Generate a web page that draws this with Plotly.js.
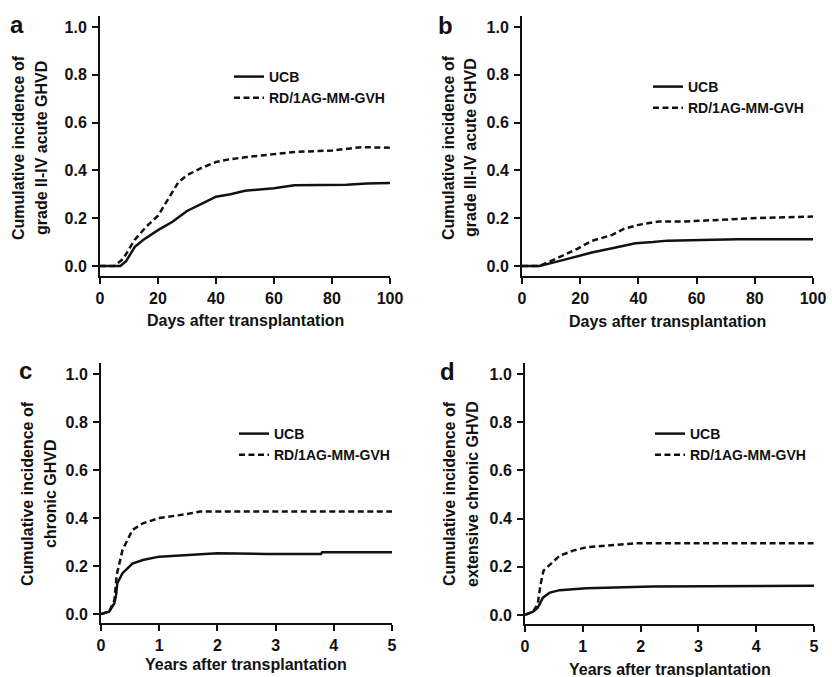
<!DOCTYPE html>
<html>
<head>
<meta charset="utf-8">
<script src="https://cdn.plot.ly/plotly-3.0.1.min.js"></script>
<style>html,body{margin:0;padding:0;background:#fff}#chart{width:832px;height:677px}</style>
</head>
<body>
<div id="chart"></div>
<script>
// Panel a: grade II-IV acute GVHD (days)
var aDaysUCB = [0, 7, 9, 12, 15, 20, 25, 30, 35, 40, 45, 50, 55, 60, 67, 75, 85, 92, 100];
var aUCB     = [0, 0, 0.02, 0.08, 0.11, 0.15, 0.185, 0.23, 0.26, 0.29, 0.30, 0.315, 0.32, 0.325, 0.338, 0.34, 0.34, 0.345, 0.347];
var aDaysRD  = [0, 5, 8, 12, 16, 20, 25, 27, 30, 35, 40, 44, 50, 55, 60, 67, 80, 90, 100];
var aRD      = [0, 0, 0.03, 0.11, 0.165, 0.21, 0.31, 0.35, 0.38, 0.41, 0.435, 0.445, 0.455, 0.46, 0.468, 0.477, 0.483, 0.497, 0.495];
// Panel b: grade III-IV acute GVHD (days)
var bDaysUCB = [0, 6, 12, 19, 24, 31, 39, 45, 50, 62, 74, 100];
var bUCB     = [0, 0, 0.018, 0.04, 0.056, 0.074, 0.095, 0.1, 0.106, 0.109, 0.112, 0.112];
var bDaysRD  = [0, 6, 12, 19, 24, 31, 35, 40, 47, 56, 68, 79, 100];
var bRD      = [0, 0, 0.032, 0.072, 0.105, 0.13, 0.155, 0.172, 0.186, 0.186, 0.193, 0.2, 0.207];
// Panel c: chronic GVHD (years)
var cYearsUCB = [0, 0.14, 0.23, 0.26, 0.28, 0.37, 0.54, 0.72, 1.0, 1.46, 2.0, 2.84, 3.78, 3.8, 5];
var cUCB      = [0, 0.01, 0.045, 0.08, 0.128, 0.17, 0.21, 0.225, 0.239, 0.246, 0.253, 0.25, 0.25, 0.257, 0.257];
var cYearsRD  = [0, 0.14, 0.23, 0.27, 0.37, 0.54, 0.72, 1.0, 1.46, 1.7, 5];
var cRD       = [0, 0.01, 0.058, 0.163, 0.267, 0.35, 0.378, 0.4, 0.416, 0.427, 0.427];
// Panel d: extensive chronic GVHD (years)
var dYearsUCB = [0, 0.14, 0.22, 0.31, 0.43, 0.6, 1.06, 1.64, 2.2, 5];
var dUCB      = [0, 0.014, 0.03, 0.072, 0.093, 0.103, 0.111, 0.114, 0.118, 0.121];
var dYearsRD  = [0, 0.14, 0.22, 0.27, 0.32, 0.48, 0.6, 0.83, 1.06, 1.4, 1.93, 5];
var dRD       = [0, 0.014, 0.045, 0.128, 0.184, 0.218, 0.246, 0.267, 0.281, 0.288, 0.298, 0.298];

var seriesNames = ["UCB", "RD/1AG-MM-GVH"];
var yTickVals = [0, 0.2, 0.4, 0.6, 0.8, 1.0];
var panelLetters = ["a", "b", "c", "d"];
var yTitleLine1 = ["Cumulative incidence of", "Cumulative incidence of",
                   "Cumulative incidence of", "Cumulative incidence of"];
var yTitleLine2 = ["grade II-IV acute GHVD", "grade III-IV acute GHVD",
                   "chronic GHVD", "extensive chronic GHVD"];
var xTitles = ["Days after transplantation", "Days after transplantation",
               "Years after transplantation", "Years after transplantation"];

var W = 832, H = 677;
var FONT = "Liberation Sans, Arial, sans-serif";
var INK = "#111";

function px(x){ return x / W; }
function py(y){ return 1 - y / H; }

var panels = [
  {xu: aDaysUCB, yu: aUCB, xr: aDaysRD, yr: aRD},
  {xu: bDaysUCB, yu: bUCB, xr: bDaysRD, yr: bRD},
  {xu: cYearsUCB, yu: cUCB, xr: cYearsRD, yr: cRD},
  {xu: dYearsUCB, yu: dUCB, xr: dYearsRD, yr: dRD}
];

// geometry (pixels)
var geo = [
  {x0: 100, x1: 390, yTop: 16,  yBot: 276, yr: [-0.042, 1.046], xr: [0, 100], dt: 20, t1: 19, t2: 42, ty: 148, xt: 320, lt: {x: 17, y: 24}, lg: {x: 229, y: 61}},
  {x0: 522, x1: 813, yTop: 16,  yBot: 276, yr: [-0.042, 1.046], xr: [0, 100], dt: 20, t1: 449, t2: 471, ty: 148, xt: 321, lt: {x: 445, y: 25}, lg: {x: 648, y: 71}},
  {x0: 101, x1: 392, yTop: 363, yBot: 623, yr: [-0.0375, 1.046], xr: [0, 5], dt: 1, t1: 27, t2: 50, ty: 494, xt: 664, lt: {x: 25, y: 370}, lg: {x: 234, y: 418}},
  {x0: 525, x1: 814, yTop: 363, yBot: 624, yr: [-0.0375, 1.046], xr: [0, 5], dt: 1, t1: 449, t2: 472, ty: 494, xt: 669, lt: {x: 447, y: 371}, lg: {x: 650, y: 418}}
];

var traces = [];
var layout = {
  width: W, height: H,
  margin: {l: 0, r: 0, t: 0, b: 0},
  paper_bgcolor: "#fff", plot_bgcolor: "rgba(0,0,0,0)",
  font: {family: FONT, color: INK},
  annotations: []
};

panels.forEach(function(p, i){
  var n = i + 1;
  var xa = "x" + (n === 1 ? "" : n), ya = "y" + (n === 1 ? "" : n);
  var lgName = "legend" + (n === 1 ? "" : n);
  traces.push({
    x: p.xu, y: p.yu, type: "scatter", mode: "lines", name: seriesNames[0],
    xaxis: xa, yaxis: ya, legend: lgName,
    line: {color: INK, width: 2.5, dash: "solid"}
  });
  traces.push({
    x: p.xr, y: p.yr, type: "scatter", mode: "lines", name: seriesNames[1],
    xaxis: xa, yaxis: ya, legend: lgName,
    line: {color: INK, width: 2.5, dash: "6px,3.5px"}
  });
  var g = geo[i];
  layout["xaxis" + (n === 1 ? "" : n)] = {
    domain: [px(g.x0), px(g.x1)], anchor: ya, range: g.xr,
    dtick: g.dt, tick0: 0, ticks: "outside", ticklen: 6, tickwidth: 2, tickcolor: INK,
    showline: true, linecolor: INK, linewidth: 2, showgrid: false, zeroline: false,
    tickfont: {family: FONT, size: 16, color: INK, weight: "bold"},
    ticklabelstandoff: 1,
    automargin: false, fixedrange: true
  };
  layout["yaxis" + (n === 1 ? "" : n)] = {
    domain: [py(g.yBot), py(g.yTop)], anchor: xa, range: g.yr,
    tickvals: yTickVals, tickformat: ".1f", ticks: "outside", ticklen: 6, tickwidth: 2, tickcolor: INK,
    showline: true, linecolor: INK, linewidth: 2, showgrid: false, zeroline: false,
    tickfont: {family: FONT, size: 16, color: INK, weight: "bold"},
    ticklabelstandoff: 2,
    automargin: false, fixedrange: true
  };
  layout[lgName] = {
    x: px(g.lg.x), y: py(g.lg.y), xanchor: "left", yanchor: "top",
    bgcolor: "rgba(0,0,0,0)", borderwidth: 0, tracegroupgap: 0, traceorder: "normal",
    font: {family: FONT, size: 14, color: INK, weight: "bold"}
  };
  layout.annotations.push({
    xref: "paper", yref: "paper", x: px((g.x0 + g.x1) / 2), y: py(g.xt), xanchor: "center", yanchor: "middle",
    text: xTitles[i], showarrow: false,
    font: {family: FONT, size: 16, color: INK, weight: "bold"}
  });
  layout.annotations.push({
    xref: "paper", yref: "paper", x: px(g.t1), y: py(g.ty), xanchor: "center", yanchor: "middle",
    text: yTitleLine1[i], textangle: -90, showarrow: false,
    font: {family: FONT, size: 16, color: INK, weight: "bold"}
  });
  layout.annotations.push({
    xref: "paper", yref: "paper", x: px(g.t2), y: py(g.ty), xanchor: "center", yanchor: "middle",
    text: yTitleLine2[i], textangle: -90, showarrow: false,
    font: {family: FONT, size: 16, color: INK, weight: "bold"}
  });
  layout.annotations.push({
    xref: "paper", yref: "paper", x: px(g.lt.x), y: py(g.lt.y), xanchor: "center", yanchor: "middle",
    text: panelLetters[i], showarrow: false,
    font: {family: FONT, size: 24, color: INK, weight: "bold"}
  });
});

Plotly.newPlot("chart", traces, layout, {displayModeBar: false, staticPlot: true});
</script>
</body>
</html>
